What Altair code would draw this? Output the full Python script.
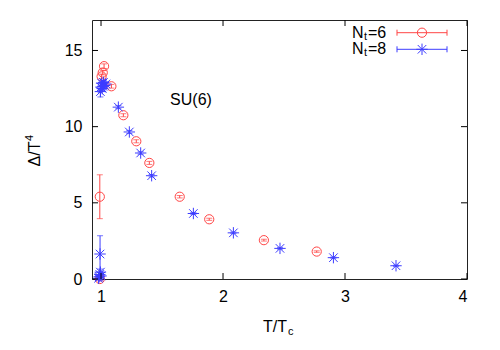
import altair as alt
import pandas as pd

# ---------------- data ----------------
T6 = [0.99, 0.99, 1.005, 1.014, 1.025, 1.085, 1.183, 1.289, 1.396, 1.645, 1.887, 2.335, 2.768]
D6 = [0.0, 5.4, 13.3, 13.55, 13.97, 12.65, 10.75, 9.04, 7.62, 5.40, 3.92, 2.55, 1.80]
E6 = [0.12, 1.44, 0.15, 0.15, 0.15, 0.12, 0.10, 0.10, 0.10, 0.08, 0.07, 0.06, 0.05]

T8 = [0.98, 0.985, 0.99, 0.995, 1.0, 0.992,
      0.995, 1.0, 1.005, 1.01, 1.015, 1.02, 1.03, 1.04,
      1.142, 1.232, 1.325, 1.415, 1.757, 2.085, 2.467, 2.905, 3.418]
D8 = [0.05, 0.15, 0.3, 0.45, 0.2, 1.64,
      12.3, 12.6, 12.85, 12.5, 12.65, 12.9, 12.7, 12.8,
      11.28, 9.65, 8.27, 6.78, 4.30, 3.03, 2.01, 1.40, 0.87]
E8 = [0.1, 0.1, 0.15, 0.2, 0.1, 1.2,
      0.35, 0.2, 0.15, 0.15, 0.15, 0.15, 0.15, 0.15,
      0.1, 0.1, 0.08, 0.08, 0.06, 0.05, 0.05, 0.04, 0.04]

X_TICKS = [1, 2, 3, 4]
Y_TICKS = [0, 5, 10, 15]

# ---------------- styling ----------------
RED = "#ff4545"
BLUE = "#3c3cff"
FONT = "Liberation Sans"
FS = 16
W, H = 375, 259
STAR = "M-1,0L1,0M0,-1L0,1M-0.75,-0.75L0.75,0.75M-0.75,0.75L0.75,-0.75"

df6 = pd.DataFrame({"T": T6, "D": D6,
                    "lo": [d - e for d, e in zip(D6, E6)],
                    "hi": [d + e for d, e in zip(D6, E6)]})
df8 = pd.DataFrame({"T": T8, "D": D8,
                    "lo": [d - e for d, e in zip(D8, E8)],
                    "hi": [d + e for d, e in zip(D8, E8)]})

xs = alt.Scale(domain=[0.926, 4], nice=False, zero=False)
ys = alt.Scale(domain=[0, 17], nice=False, zero=False)

xax = alt.Axis(values=X_TICKS, format="d", ticks=False, domain=False, grid=False,
               labelFont=FONT, labelFontSize=FS, labelColor="black", labelPadding=9,
               title=None)
yax = alt.Axis(values=Y_TICKS, format="d", ticks=False, domain=False, grid=False,
               labelFont=FONT, labelFontSize=FS, labelColor="black", labelPadding=10,
               title=None)

one = pd.DataFrame({"a": [0]})


def series(df, color, shape, size):
    base = alt.Chart(df)
    bars = base.mark_rule(color=color, strokeWidth=1).encode(
        x=alt.X("T:Q", scale=xs, axis=xax), y=alt.Y("lo:Q", scale=ys, axis=yax), y2="hi:Q")
    cap_lo = base.mark_tick(color=color, orient="horizontal", size=6, thickness=1).encode(
        x=alt.X("T:Q", scale=xs), y=alt.Y("lo:Q", scale=ys))
    cap_hi = base.mark_tick(color=color, orient="horizontal", size=6, thickness=1).encode(
        x=alt.X("T:Q", scale=xs), y=alt.Y("hi:Q", scale=ys))
    pts = base.mark_point(shape=shape, filled=False, size=size, color=color,
                          strokeWidth=1, opacity=1).encode(
        x=alt.X("T:Q", scale=xs), y=alt.Y("D:Q", scale=ys))
    return [bars, cap_lo, cap_hi, pts]


layers = []
layers += series(df6, RED, "circle", 85)
layers += series(df8, BLUE, STAR, 130)

# inward mirrored ticks
xt = pd.DataFrame({"v": X_TICKS})
yt = pd.DataFrame({"v": Y_TICKS})
TK = 6
layers.append(alt.Chart(xt).mark_rule(color="black").encode(
    x=alt.X("v:Q", scale=xs), y=alt.value(H), y2=alt.value(H - TK)))
layers.append(alt.Chart(xt).mark_rule(color="black").encode(
    x=alt.X("v:Q", scale=xs), y=alt.value(0), y2=alt.value(TK)))
layers.append(alt.Chart(yt).mark_rule(color="black").encode(
    y=alt.Y("v:Q", scale=ys), x=alt.value(0), x2=alt.value(TK)))
layers.append(alt.Chart(yt).mark_rule(color="black").encode(
    y=alt.Y("v:Q", scale=ys), x=alt.value(W), x2=alt.value(W - TK)))


def txt(s, x, y, size=FS, align="left", angle=0, baseline="middle"):
    return alt.Chart(one).mark_text(text=s, font=FONT, fontSize=size, align=align,
                                    baseline=baseline, angle=angle, color="black").encode(
        x=alt.value(x), y=alt.value(y))


# axis titles
layers.append(txt("Δ/T", -57, 134, angle=270, align="center"))
layers.append(txt("4", -62, 118, size=11, angle=270, align="center"))
layers.append(txt("T/T", 171, 307))
layers.append(txt("c", 196, 312, size=11))

# annotation
layers.append(txt("SU(6)", 99, 80, align="center"))

# legend
for lab, yy, color, shape, size in [("=6", 12.7, RED, "circle", 85),
                                     ("=8", 29.3, BLUE, STAR, 130)]:
    layers.append(txt("N", 260, yy))
    layers.append(txt("t", 272, yy + 4, size=11))
    layers.append(txt(lab, 276, yy))
    layers.append(alt.Chart(one).mark_rule(color=color).encode(
        x=alt.value(305), x2=alt.value(355), y=alt.value(yy)))
    layers.append(alt.Chart(one).mark_rule(color=color).encode(
        x=alt.value(305), y=alt.value(yy - 3), y2=alt.value(yy + 3)))
    layers.append(alt.Chart(one).mark_rule(color=color).encode(
        x=alt.value(355), y=alt.value(yy - 3), y2=alt.value(yy + 3)))
    layers.append(alt.Chart(one).mark_point(shape=shape, filled=False, size=size,
                                            color=color, strokeWidth=1, opacity=1).encode(
        x=alt.value(330), y=alt.value(yy)))

chart = alt.layer(*layers).properties(
    width=W, height=H,
    autosize=alt.AutoSizeParams(type="none"),
    padding={"left": 84, "top": 12, "right": 25, "bottom": 62},
).configure_view(stroke="#222", strokeWidth=1)

chart.save("out.html", embed_options={"renderer": "svg", "actions": False})
